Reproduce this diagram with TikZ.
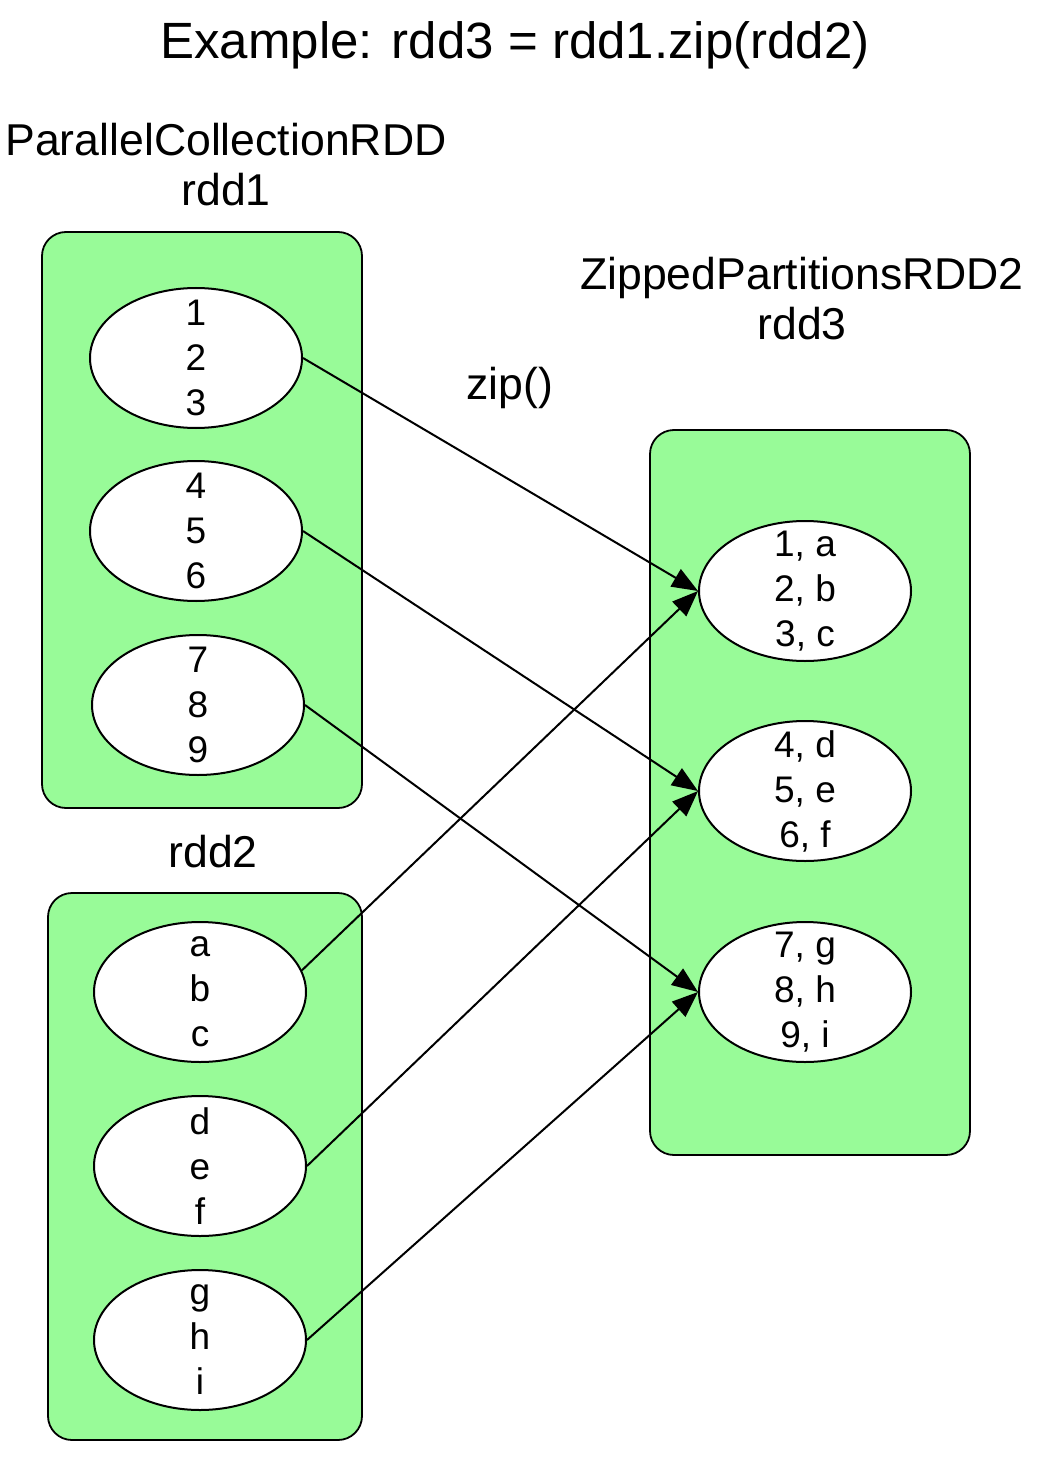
\documentclass[tikz,border=0pt]{standalone}
\usepackage{fontspec}
\setmainfont{Liberation Sans}
\usepackage{tikz}
\usetikzlibrary{
  arrows.meta,
  shapes.geometric
}
\definecolor{PartGreen}{RGB}{152,251,152}

\begin{document}
\begin{tikzpicture}[
  x=0.5pt, y=-0.5pt,
  >={Triangle[length=13pt,width=10pt]},
  rddbox/.style={
    draw=black,
    line width=0.9pt,
    rounded corners=12pt,
    fill=PartGreen,
    inner sep=0pt,
  },
  part/.style={
    ellipse,
    draw=black,
    line width=1pt,
    fill=white,
    inner sep=0pt,
    minimum width=106pt,
    minimum height=70pt,
  },
  parttext/.style={
    align=center,
    inner sep=0pt,
    font=\fontsize{18.5}{22.5}\selectfont,
  },
  lab/.style={
    align=center,
    inner sep=0pt,
    font=\fontsize{22.3}{25}\selectfont,
  },
  arr/.style={->, line width=1pt, black},
]
  \useasboundingbox (0,0) rectangle (1038,1460);

  \node[lab, font=\fontsize{25.5}{29}\selectfont] (title) at (515,45)
    {Example: rdd3 = rdd1.zip(rdd2)};

  % the three rdds
  \node[rddbox, minimum width=160pt, minimum height=288pt] (rdd1) at (202,520) {};
  \node[rddbox, minimum width=157pt, minimum height=273.5pt] (rdd2) at (205,1166.5) {};
  \node[rddbox, minimum width=160pt, minimum height=362.5pt] (rdd3) at (810,792.5) {};

  \node[lab] (rdd1lab) at (226,165) {ParallelCollectionRDD\\rdd1};
  \node[lab] (rdd2lab) at (213,852) {rdd2};
  \node[lab] (rdd3lab) at (802,299) {ZippedPartitionsRDD2\\rdd3};
  \node[lab] (ziplab) at (510,388) {zip()};

  % partitions
  \node[part] (p1) at (196,358) {};
  \node[part] (p2) at (196,531) {};
  \node[part] (p3) at (198,705) {};
  \node[part] (q1) at (200,992) {};
  \node[part] (q2) at (200,1166) {};
  \node[part] (q3) at (200,1340) {};
  \node[part] (r1) at (805,591) {};
  \node[part] (r2) at (805,791) {};
  \node[part] (r3) at (805,992) {};

  \node[parttext] (p1t) at (p1) {1\\2\\3};
  \node[parttext] (p2t) at (p2) {4\\5\\6};
  \node[parttext] (p3t) at (p3) {7\\8\\9};
  \node[parttext] (q1t) at (q1) {a\\b\\c};
  \node[parttext] (q2t) at (q2) {d\\e\\f};
  \node[parttext] (q3t) at (q3) {g\\h\\i};
  \node[parttext] (r1t) at (r1) {1, a\\2, b\\3, c};
  \node[parttext] (r2t) at (r2) {4, d\\5, e\\6, f};
  \node[parttext] (r3t) at (r3) {7, g\\8, h\\9, i};

  % zip
  \draw[arr] (p1.east) -- (r1.west);
  \draw[arr] (q1.12) -- (r1.west);
  \draw[arr] (p2.east) -- (r2.west);
  \draw[arr] (q2.east) -- (r2.west);
  \draw[arr] (p3.east) -- (r3.west);
  \draw[arr] (q3.east) -- (r3.west);
\end{tikzpicture}
\end{document}
